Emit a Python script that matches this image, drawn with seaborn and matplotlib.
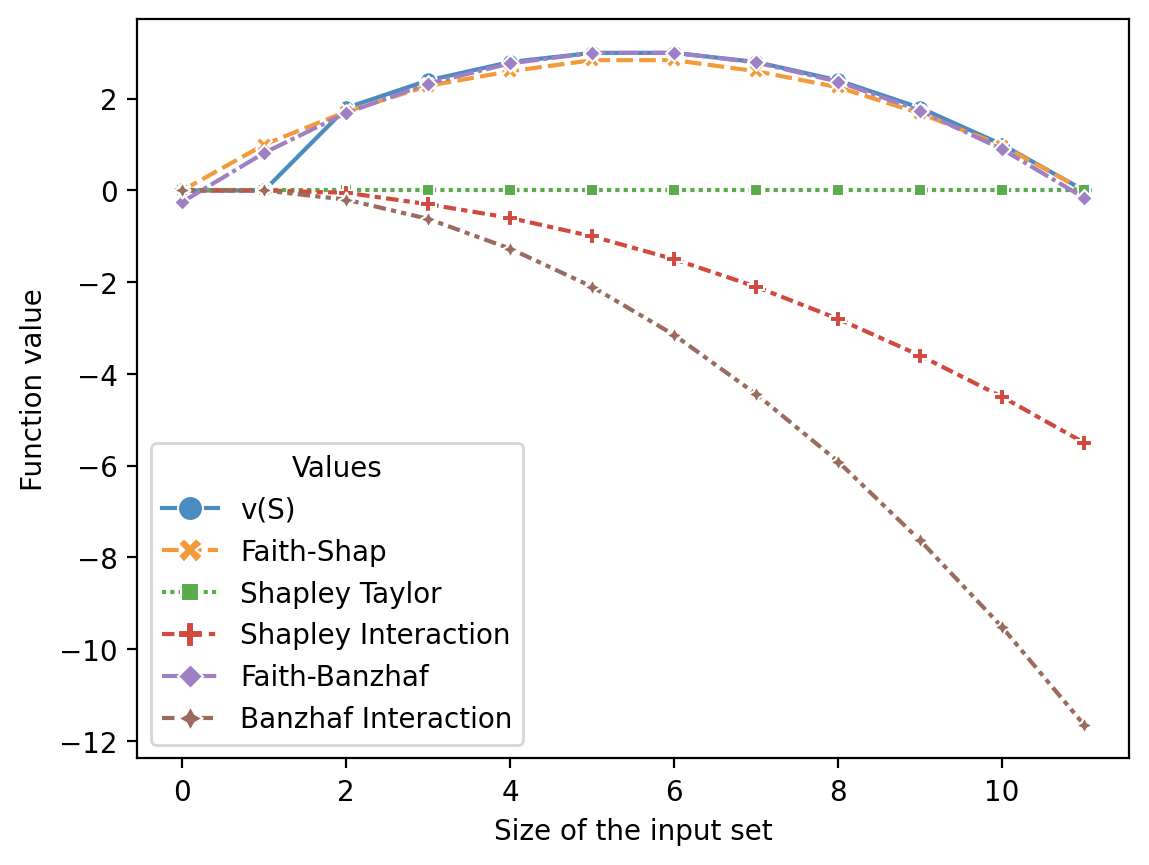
import numpy as np
import pandas as pd
import matplotlib
matplotlib.use("Agg")
import matplotlib.pyplot as plt
import seaborn as sns

sizes = list(range(12))
series_names = ["v(S)", "Faith-Shap", "Shapley Taylor", "Shapley Interaction",
                "Faith-Banzhaf", "Banzhaf Interaction"]
v_s = [0.0, 0.0, 1.8, 2.4, 2.8, 3.0, 3.0, 2.8, 2.4, 1.8, 1.0, 0.0]
faith_shap = [0.0, 1.0, 1.72, 2.28, 2.6, 2.84, 2.84, 2.6, 2.25, 1.68, 0.98, 0.0]
shapley_taylor = [0.0] * 12
shapley_interaction = [0.0, 0.0, -0.05, -0.3, -0.6, -1.0, -1.5, -2.1, -2.8, -3.6, -4.5, -5.5]
faith_banzhaf = [-0.25, 0.82, 1.69, 2.33, 2.77, 3.0, 3.0, 2.79, 2.37, 1.74, 0.9, -0.16]
banzhaf_interaction = [0.0, 0.0, -0.2, -0.62, -1.27, -2.1, -3.15, -4.44, -5.91, -7.63, -9.52, -11.65]

all_values = [v_s, faith_shap, shapley_taylor, shapley_interaction, faith_banzhaf, banzhaf_interaction]

rows = []
for name, vals in zip(series_names, all_values):
    for s, v in zip(sizes, vals):
        rows.append({"Size of the input set": s, "Function value": v, "Values": name})
df = pd.DataFrame(rows)

palette = ["#4a8bc0", "#f39a3a", "#5aab4b", "#d14a3d", "#a080c4", "#9b6b5e"]

fig, ax = plt.subplots(figsize=(6.4, 4.8), dpi=200)
sns.lineplot(data=df, x="Size of the input set", y="Function value",
             hue="Values", style="Values", markers=True,
             hue_order=series_names, style_order=series_names,
             palette=palette, ax=ax)
leg = ax.get_legend()
for h in leg.legend_handles:
    h.set_markersize(9)
fig.savefig("out.png", dpi=200, bbox_inches="tight")
